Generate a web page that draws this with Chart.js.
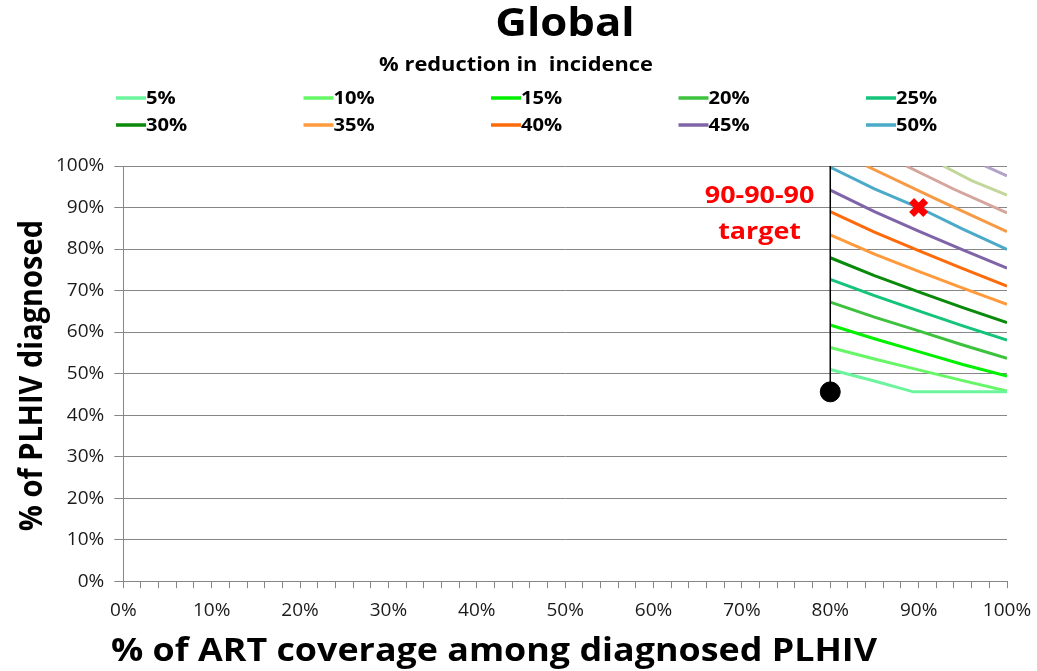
<!DOCTYPE html>
<html>
<head>
<meta charset="utf-8">
<script src="https://cdn.jsdelivr.net/npm/chart.js@4"></script>
<style>
  html, body { margin: 0; padding: 0; background: #fff; }
  #wrap { width: 1037px; height: 671px; position: relative; }
</style>
</head>
<body>
<div id="wrap"><canvas id="myChart"></canvas></div>
<script>
// % reduction in incidence contours (x = ART coverage %, y = diagnosed %)
const levels = ["5%", "10%", "15%", "20%", "25%", "30%", "35%", "40%", "45%", "50%", "55%", "60%", "65%", "70%"];
const lineColors = [
  "#6CF59C", "#66F766", "#00F000", "#3DC23D", "#14C47A", "#0A8A0A", "#FF9B3D",
  "#FF6A0A", "#8064A8", "#4AAAC8", "#F79A46", "#D4A59C", "#C3D69B", "#B3A2C7",
];
const seriesX = [
  [80, 85, 89.4, 100],
  [80, 85, 90, 95, 100],
  [80, 85, 90, 95, 100],
  [80, 85, 90, 95, 100],
  [80, 85, 90, 95, 100],
  [80, 85, 90, 95, 100],
  [80, 85, 90, 95, 100],
  [80, 85, 90, 95, 100],
  [80, 85, 90, 95, 100],
  [80, 85, 90, 95, 100],
  [84.1, 92, 100],
  [88.6, 94, 100],
  [92.8, 96, 100],
  [97.5, 100],
];
const seriesY = [
  [51.0, 48.2, 45.6, 45.6],
  [56.3, 53.5, 50.9, 48.3, 45.8],
  [61.7, 58.4, 55.3, 52.2, 49.4],
  [67.2, 63.6, 60.3, 56.9, 53.7],
  [72.7, 68.8, 65.1, 61.5, 58.1],
  [77.9, 73.6, 69.7, 65.9, 62.3],
  [83.4, 78.8, 74.6, 70.6, 66.7],
  [89.0, 84.1, 79.6, 75.3, 71.1],
  [94.2, 89.0, 84.3, 79.8, 75.4],
  [99.7, 94.5, 90.0, 84.8, 79.9],
  [100, 92.0, 84.2],
  [100, 94.4, 88.7],
  [100, 96.5, 93.0],
  [100, 97.6],
];
const current = { x: 80, y: 45.6 };
const target = { x: 90, y: 90 };
const xTicks = [0, 10, 20, 30, 40, 50, 60, 70, 80, 90, 100];

const FONT = "'Open Sans', Lato, sans-serif";
const SX = 1.12; // the original text is a little wider than Open Sans

const contourSets = levels.map((lab, i) => ({
  label: lab,
  data: seriesX[i].map((x, k) => ({ x: x, y: seriesY[i][k] })),
  borderColor: lineColors[i],
  backgroundColor: lineColors[i],
  borderWidth: 3,
  pointRadius: 0,
  showLine: true,
  tension: 0,
  order: 2,
}));

function wideText(c, txt, x, y, align) {
  c.save();
  c.translate(x, y);
  c.scale(SX, 1);
  c.textAlign = align || "center";
  c.fillText(txt, 0, 0);
  c.restore();
}

// titles, column legend and the target note
const extras = {
  id: "extras",
  afterDraw(chart) {
    const c = chart.ctx;
    const xs = chart.scales.x, ys = chart.scales.y;
    const area = chart.chartArea;
    c.save();
    c.textBaseline = "middle";
    c.fillStyle = "#000";
    c.font = "bold 39px " + FONT;
    wideText(c, "Global", 565, 25);
    c.font = "bold 19.5px " + FONT;
    wideText(c, "% reduction in  incidence", 516, 65);

    // legend, 5 columns x 2 rows
    c.font = "bold 18px " + FONT;
    for (let i = 0; i < 10; i++) {
      const col = i % 5, row = Math.floor(i / 5);
      const x0 = 116 + col * 187.5;
      const y0 = 98 + row * 27;
      c.strokeStyle = lineColors[i];
      c.lineWidth = 3.5;
      c.beginPath();
      c.moveTo(x0, y0);
      c.lineTo(x0 + 30, y0);
      c.stroke();
      c.fillStyle = "#000";
      wideText(c, levels[i], x0 + 30, y0 + 1, "left");
    }

    // axis titles
    c.font = "bold 32px " + FONT;
    wideText(c, "% of ART coverage among diagnosed PLHIV", 494, 652);
    c.save();
    c.translate(33, (area.top + area.bottom) / 2 + 2);
    c.scale(SX, 1);
    c.rotate(-Math.PI / 2);
    c.textAlign = "center";
    c.font = "bold 29px " + FONT;
    c.fillText("% of PLHIV diagnosed", 0, 0);
    c.restore();

    // 90-90-90 target label
    c.fillStyle = "#FF0000";
    c.font = "bold 24px " + FONT;
    wideText(c, "90-90-90", xs.getPixelForValue(72.0), ys.getPixelForValue(92.8));
    wideText(c, "target", xs.getPixelForValue(72.0), ys.getPixelForValue(84.0));
    c.restore();
  },
};

const ctx = document.getElementById("myChart").getContext("2d");
const myChart = new Chart(ctx, {
  type: "scatter",
  data: {
    datasets: [
      {
        label: "target",
        data: [target],
        pointStyle: "crossRot",
        pointRadius: 10,
        borderWidth: 7,
        borderColor: "#FF0000",
        backgroundColor: "#FF0000",
        order: 0,
      },
      {
        label: "current",
        data: [current],
        pointStyle: "circle",
        pointRadius: 10,
        borderWidth: 1,
        borderColor: "#000",
        backgroundColor: "#000",
        order: 0,
      },
      {
        label: "80% line",
        data: [current, { x: current.x, y: 100 }],
        showLine: true,
        borderColor: "#000",
        borderWidth: 1.5,
        pointRadius: 0,
        order: 1,
      },
      ...contourSets,
    ],
  },
  options: {
    responsive: true,
    maintainAspectRatio: false,
    animation: false,
    layout: { padding: { top: 166, left: 46, right: 30, bottom: 38 } },
    plugins: {
      legend: { display: false },
      tooltip: { enabled: false },
    },
    scales: {
      x: {
        type: "linear",
        min: 0,
        max: 100,
        afterBuildTicks(axis) {
          const t = [];
          for (let v = 0; v <= 100; v += 2) t.push({ value: v });
          axis.ticks = t;
        },
        afterFit(axis) {
          // let the layout padding decide the right edge, not the "100%" label
          axis.paddingRight = 0;
        },
        ticks: {
          autoSkip: false,
          maxRotation: 0,
          padding: 11,
          color: "#1a1a1a",
          font: { family: FONT, size: 19 },
          callback: (v) => (xTicks.includes(v) ? v + "%" : ""),
        },
        grid: {
          drawOnChartArea: false,
          drawTicks: true,
          tickLength: 7,
          color: "#868686",
        },
        border: { color: "#868686", width: 1 },
      },
      y: {
        min: 0,
        max: 100,
        ticks: {
          stepSize: 10,
          padding: 10,
          color: "#1a1a1a",
          font: { family: FONT, size: 19 },
          callback: (v) => v + "%",
        },
        grid: { color: "#868686", tickLength: 9 },
        border: { color: "#868686", width: 1 },
      },
    },
  },
  plugins: [extras],
});
</script>
</body>
</html>
